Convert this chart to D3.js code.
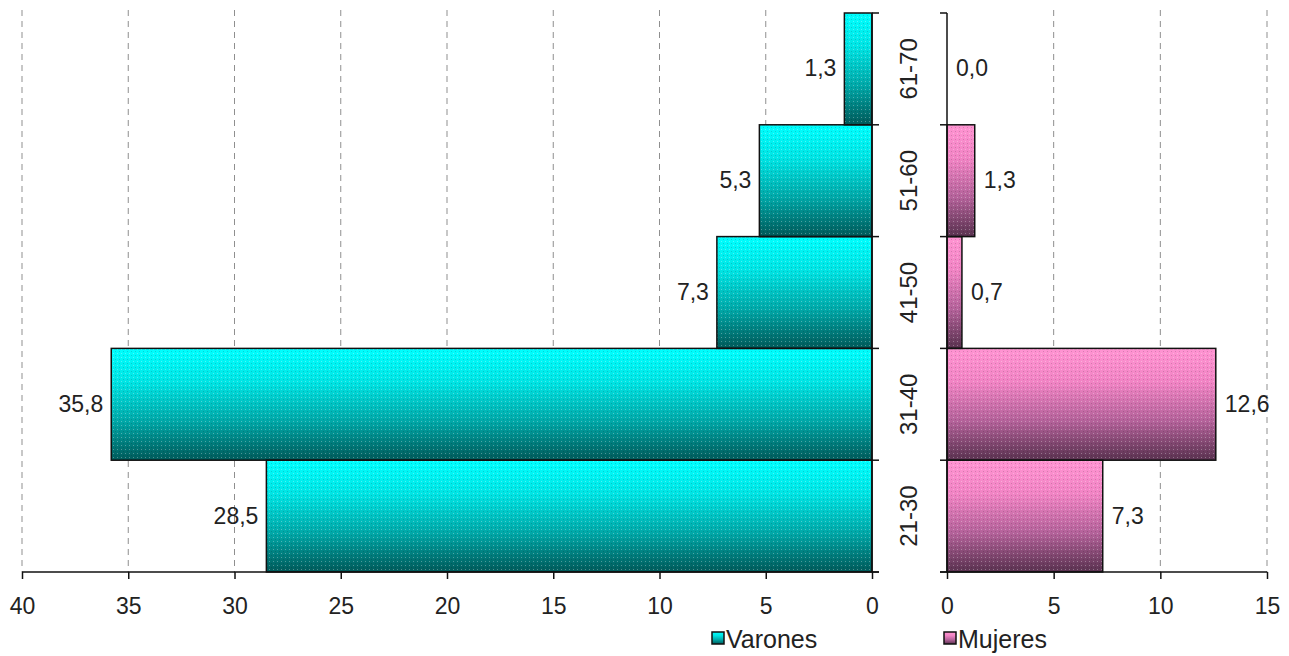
<!DOCTYPE html>
<html>
<head>
<meta charset="utf-8">
<script src="https://cdn.jsdelivr.net/npm/d3@7"></script>
<style>
  html, body { margin: 0; padding: 0; background: #fff; }
  svg text { font-family: "Liberation Sans", Arial, sans-serif; fill: #222; }
</style>
</head>
<body>
<svg id="chart" width="1289" height="656"></svg>
<script>
// Age groups (bottom to top) and percentage per group
const categories = ["21-30", "31-40", "41-50", "51-60", "61-70"];
const varones = [28.5, 35.8, 7.3, 5.3, 1.3];
const mujeres = [7.3, 12.6, 0.7, 1.3, 0.0];
const ticksVarones = [40, 35, 30, 25, 20, 15, 10, 5, 0];
const ticksMujeres = [0, 5, 10, 15];
const seriesNames = ["Varones", "Mujeres"];

const svg = d3.select("#chart");
const plotTop = 13, plotBottom = 572;

const y = d3.scaleBand()
  .domain(categories.slice().reverse())
  .range([plotTop, plotBottom])
  .padding(0);

const xL = d3.scaleLinear().domain([40, 0]).range([22, 872]);
const xR = d3.scaleLinear().domain([0, 15]).range([947, 1267]);

const fmt = v => d3.format(".1f")(v).replace(".", ",");

// Gradients: light at the top of each bar, dark at the bottom
const defs = svg.append("defs");
function grad(id, stops) {
  const g = defs.append("linearGradient").attr("id", id)
    .attr("x1", 0).attr("y1", 0).attr("x2", 0).attr("y2", 1);
  stops.forEach(([o, c]) => g.append("stop").attr("offset", o).attr("stop-color", c));
}
grad("gV", [[0, "#00ffff"], [0.3, "#00e4e4"], [0.65, "#00a8a8"], [1, "#005a5a"]]);
grad("gM", [[0, "#ff94d2"], [0.3, "#f184c4"], [0.65, "#b4629a"], [1, "#5a3250"]]);

// Fine dot texture over the bars
const pat = defs.append("pattern").attr("id", "dots")
  .attr("width", 4).attr("height", 4).attr("patternUnits", "userSpaceOnUse");
pat.append("rect").attr("x", 1).attr("y", 1).attr("width", 1).attr("height", 1)
  .attr("fill", "#ffffff").attr("opacity", 0.3);
pat.append("rect").attr("x", 3).attr("y", 3).attr("width", 1).attr("height", 1)
  .attr("fill", "#000000").attr("opacity", 0.15);

// Dashed gridlines
svg.append("g").selectAll("line")
  .data(ticksVarones.filter(d => d !== 0))
  .join("line")
  .attr("x1", d => xL(d)).attr("x2", d => xL(d))
  .attr("y1", plotTop - 3).attr("y2", plotBottom)
  .attr("stroke", "#8f8f8f").attr("stroke-width", 1)
  .attr("stroke-dasharray", "6,5");

svg.append("g").selectAll("line")
  .data(ticksMujeres.filter(d => d !== 0))
  .join("line")
  .attr("x1", d => xR(d)).attr("x2", d => xR(d))
  .attr("y1", plotTop - 3).attr("y2", plotBottom)
  .attr("stroke", "#8f8f8f").attr("stroke-width", 1)
  .attr("stroke-dasharray", "6,5");

// Bars
const rowsV = categories.map((c, i) => ({ c, v: varones[i] }));
const rowsM = categories.map((c, i) => ({ c, v: mujeres[i] }));

const gV = svg.append("g");
gV.selectAll("rect.fill").data(rowsV).join("rect")
  .attr("x", d => xL(d.v)).attr("y", d => y(d.c))
  .attr("width", d => xL(0) - xL(d.v)).attr("height", y.bandwidth())
  .attr("fill", "url(#gV)");
gV.selectAll("rect.tex").data(rowsV).join("rect")
  .attr("x", d => xL(d.v)).attr("y", d => y(d.c))
  .attr("width", d => xL(0) - xL(d.v)).attr("height", y.bandwidth())
  .attr("fill", "url(#dots)").attr("stroke", "#111").attr("stroke-width", 1.5);

const gM = svg.append("g");
gM.selectAll("rect.fill").data(rowsM.filter(d => d.v > 0)).join("rect")
  .attr("x", xR(0)).attr("y", d => y(d.c))
  .attr("width", d => xR(d.v) - xR(0)).attr("height", y.bandwidth())
  .attr("fill", "url(#gM)");
gM.selectAll("rect.tex").data(rowsM.filter(d => d.v > 0)).join("rect")
  .attr("x", xR(0)).attr("y", d => y(d.c))
  .attr("width", d => xR(d.v) - xR(0)).attr("height", y.bandwidth())
  .attr("fill", "url(#dots)").attr("stroke", "#111").attr("stroke-width", 1.5);

// Value labels
svg.append("g").selectAll("text").data(rowsV).join("text")
  .attr("x", d => xL(d.v) - 8).attr("y", d => y(d.c) + y.bandwidth() / 2)
  .attr("dy", "0.33em").attr("text-anchor", "end")
  .attr("font-size", 23).text(d => fmt(d.v));

svg.append("g").selectAll("text").data(rowsM).join("text")
  .attr("x", d => xR(d.v) + 9).attr("y", d => y(d.c) + y.bandwidth() / 2)
  .attr("dy", "0.33em").attr("text-anchor", "start")
  .attr("font-size", 23).text(d => fmt(d.v));

// Horizontal axes
function xAxis(scale, ticks) {
  return d3.axisBottom(scale).tickValues(ticks).tickSize(7).tickPadding(19)
    .tickFormat(d3.format("d"));
}
const axL = svg.append("g").attr("transform", `translate(0,${plotBottom})`).call(xAxis(xL, ticksVarones));
const axR = svg.append("g").attr("transform", `translate(0,${plotBottom})`).call(xAxis(xR, ticksMujeres));
[axL, axR].forEach(a => {
  a.select(".domain").remove();
  a.selectAll(".tick line").attr("stroke", "#111").attr("stroke-width", 1.5);
  a.selectAll(".tick text").attr("font-size", 23).attr("fill", "#222")
    .attr("font-family", "'Liberation Sans', Arial, sans-serif");
});
svg.append("line").attr("x1", xL(40)).attr("x2", xL(0) + 7)
  .attr("y1", plotBottom).attr("y2", plotBottom).attr("stroke", "#111").attr("stroke-width", 1.5);
svg.append("line").attr("x1", xR(0) - 7).attr("x2", xR(15))
  .attr("y1", plotBottom).attr("y2", plotBottom).attr("stroke", "#111").attr("stroke-width", 1.5);

// Vertical axes with ticks at band boundaries
const bounds = categories.map(c => y(c)).concat([plotBottom]);
svg.append("line").attr("x1", xL(0)).attr("x2", xL(0))
  .attr("y1", plotTop).attr("y2", plotBottom).attr("stroke", "#111").attr("stroke-width", 1.5);
svg.append("g").selectAll("line").data(bounds).join("line")
  .attr("x1", xL(0)).attr("x2", xL(0) + 7).attr("y1", d => d).attr("y2", d => d)
  .attr("stroke", "#111").attr("stroke-width", 1.5);
svg.append("line").attr("x1", xR(0)).attr("x2", xR(0))
  .attr("y1", plotTop).attr("y2", plotBottom).attr("stroke", "#111").attr("stroke-width", 1.5);
svg.append("g").selectAll("line").data(bounds).join("line")
  .attr("x1", xR(0) - 7).attr("x2", xR(0)).attr("y1", d => d).attr("y2", d => d)
  .attr("stroke", "#111").attr("stroke-width", 1.5);

// Rotated age-group labels between the two panels
svg.append("g").selectAll("text").data(categories).join("text")
  .attr("transform", d => `translate(${(xL(0) + xR(0)) / 2 - 1},${y(d) + y.bandwidth() / 2}) rotate(-90)`)
  .attr("text-anchor", "middle").attr("dy", "0.36em")
  .attr("font-size", 24).text(d => d);

// Legend
const legend = [
  { name: seriesNames[0], x: 712, fill: "url(#gV)" },
  { name: seriesNames[1], x: 944, fill: "url(#gM)" }
];
const lg = svg.append("g").selectAll("g").data(legend).join("g")
  .attr("transform", d => `translate(${d.x},632)`);
lg.append("rect").attr("width", 12).attr("height", 12)
  .attr("fill", d => d.fill).attr("stroke", "#111").attr("stroke-width", 1.5);
lg.append("text").attr("x", 14).attr("y", 7).attr("dy", "0.36em")
  .attr("font-size", 25).text(d => d.name);
</script>
</body>
</html>
